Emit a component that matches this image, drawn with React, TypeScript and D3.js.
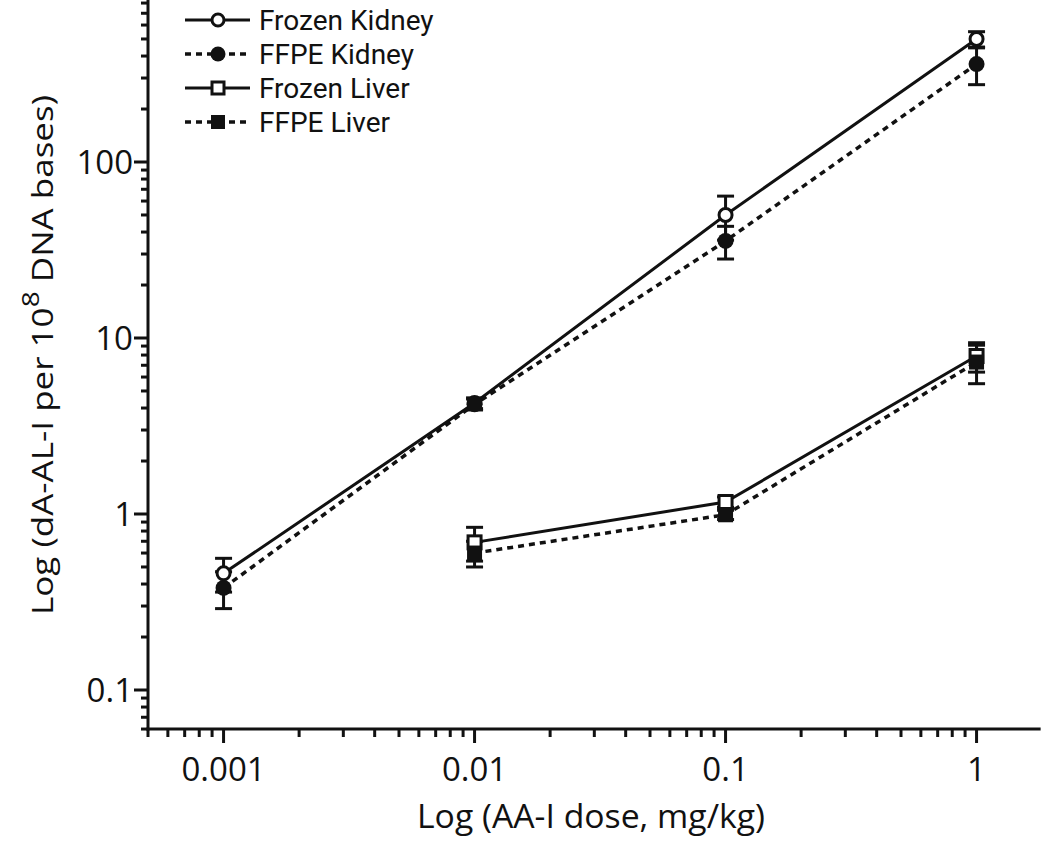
import React from "react";
import * as d3 from "d3";

const doses = [0.001, 0.01, 0.1, 1];
const frozenKidney = [0.46, 4.27, 50, 500];
const frozenKidneyErr = [0.1, 0.3, 14, 50];
const ffpeKidney = [0.38, 4.2, 35.6, 360];
const ffpeKidneyErr = [0.09, 0.3, 7.5, 85];
const liverDoses = [0.01, 0.1, 1];
const frozenLiver = [0.69, 1.17, 7.9];
const frozenLiverErr = [0.15, 0.08, 1.5];
const ffpeLiver = [0.6, 0.99, 7.3];
const ffpeLiverErr = [0.1, 0.06, 1.8];
const xTicks = [0.001, 0.01, 0.1, 1];
const xTickLabels = ["0.001", "0.01", "0.1", "1"];
const yTicks = [0.1, 1, 10, 100];
const yTickLabels = ["0.1", "1", "10", "100"];

const FONT = "'Open Sans', sans-serif";
const LEGEND_FONT = "Roboto, 'Open Sans', sans-serif";
const INK = "#111";

type Series = {
  name: string;
  x: number[];
  y: number[];
  err: number[];
  dashed: boolean;
  shape: "circle" | "square";
  filled: boolean;
};

const series: Series[] = [
  { name: "Frozen Kidney", x: doses, y: frozenKidney, err: frozenKidneyErr, dashed: false, shape: "circle", filled: false },
  { name: "FFPE Kidney", x: doses, y: ffpeKidney, err: ffpeKidneyErr, dashed: true, shape: "circle", filled: true },
  { name: "Frozen Liver", x: liverDoses, y: frozenLiver, err: frozenLiverErr, dashed: false, shape: "square", filled: false },
  { name: "FFPE Liver", x: liverDoses, y: ffpeLiver, err: ffpeLiverErr, dashed: true, shape: "square", filled: true },
];

const X0 = 148;
const Y0 = 729;
const x = d3.scaleLog().domain([0.0005, 1.8]).range([X0, X0 + 251 * Math.log10(3600)]);
const y = d3.scaleLog().domain([0.1 * Math.pow(10, -39 / 176), 0.1 * Math.pow(10, 690 / 176)]).range([Y0, 0]);

function minorTicks(lo: number, hi: number): number[] {
  const out: number[] = [];
  for (let e = -5; e <= 4; e++) {
    for (let m = 1; m <= 9; m++) {
      const v = m * Math.pow(10, e);
      if (v >= lo * 0.9999 && v <= hi * 1.0001) out.push(v);
    }
  }
  return out;
}

function Marker({ cx, cy, s, size }: { cx: number; cy: number; s: Series; size?: number }) {
  const r = size ?? 7;
  if (s.shape === "circle") {
    return (
      <circle cx={cx} cy={cy} r={s.filled ? r + 1 : r - 0.5} fill={s.filled ? INK : "#fff"} stroke={INK} strokeWidth={s.filled ? 0 : 3} />
    );
  }
  const h = s.filled ? r + 0.5 : r - 0.5;
  return <rect x={cx - h} y={cy - h} width={2 * h} height={2 * h} fill={s.filled ? INK : "#fff"} stroke={INK} strokeWidth={s.filled ? 0 : 3} />;
}

export default function App() {
  const line = d3
    .line<[number, number]>()
    .x((d) => x(d[0]))
    .y((d) => y(d[1]));

  const xMinor = minorTicks(0.0005, 1.8);
  const yMinor = minorTicks(0.06, 800);

  return (
    <svg width={1050} height={846} style={{ position: "absolute", left: 0, top: 0, background: "#fff" }}>
      <rect x={0} y={0} width={1050} height={846} fill="#fff" />
      {/* axes */}
      <line x1={X0} x2={X0} y1={0} y2={Y0 + 1.5} stroke={INK} strokeWidth={3} />
      <line x1={X0 - 1.5} x2={x.range()[1]} y1={Y0} y2={Y0} stroke={INK} strokeWidth={3} />
      {yMinor.map((v, i) => {
        const major = yTicks.some((t) => Math.abs(t - v) / t < 1e-6);
        return <line key={"ym" + i} x1={X0} x2={X0 - (major ? 14 : 7)} y1={y(v)} y2={y(v)} stroke={INK} strokeWidth={3} />;
      })}
      {xMinor.map((v, i) => {
        const major = xTicks.some((t) => Math.abs(t - v) / t < 1e-6);
        return <line key={"xm" + i} x1={x(v)} x2={x(v)} y1={Y0} y2={Y0 + (major ? 14 : 8)} stroke={INK} strokeWidth={3} />;
      })}
      {yTicks.map((v, i) => (
        <text key={"yl" + i} x={X0 - 15} y={y(v)} dy="0.36em" textAnchor="end" fontFamily={FONT} fontSize={33} fill={INK}>
          {yTickLabels[i]}
        </text>
      ))}
      {xTicks.map((v, i) => (
        <text key={"xl" + i} x={x(v)} y={Y0 + 52} textAnchor="middle" fontFamily={FONT} fontSize={33} fill={INK}>
          {xTickLabels[i]}
        </text>
      ))}
      <text x={591} y={828} textAnchor="middle" fontFamily={FONT} fontSize={33} fill={INK} textLength={348} lengthAdjust="spacingAndGlyphs">
        Log (AA-I dose, mg/kg)
      </text>
      <text transform="translate(53,355) rotate(-90)" textAnchor="middle" fontFamily={FONT} fontSize={30} fill={INK} textLength={520} lengthAdjust="spacingAndGlyphs">
        Log (dA-AL-I per 10
        <tspan dy={-14} fontSize={24}>8</tspan>
        <tspan dy={14}> DNA bases)</tspan>
      </text>

      {/* series lines */}
      {series.map((s, si) => (
        <path
          key={"ln" + si}
          d={line(s.x.map((d, i) => [d, s.y[i]] as [number, number])) || ""}
          fill="none"
          stroke={INK}
          strokeWidth={s.dashed ? 3.5 : 3}
          strokeDasharray={s.dashed ? "6,5" : undefined}
        />
      ))}
      {/* error bars */}
      {series.map((s, si) =>
        s.x.map((d, i) => {
          const cx = x(d);
          const top = y(s.y[i] + s.err[i]);
          const bot = y(Math.max(s.y[i] - s.err[i], 0.061));
          return (
            <g key={"eb" + si + "-" + i} stroke={INK} strokeWidth={3}>
              <line x1={cx} x2={cx} y1={top} y2={bot} />
              <line x1={cx - 8.5} x2={cx + 8.5} y1={top} y2={top} />
              <line x1={cx - 8.5} x2={cx + 8.5} y1={bot} y2={bot} />
            </g>
          );
        })
      )}
      {/* markers */}
      {series.map((s, si) =>
        s.x.map((d, i) => <Marker key={"mk" + si + "-" + i} cx={x(d)} cy={y(s.y[i])} s={s} />)
      )}

      {/* legend */}
      {series.map((s, si) => {
        const ly = 20 + si * 34;
        return (
          <g key={"lg" + si}>
            <line x1={185} x2={250} y1={ly} y2={ly} stroke={INK} strokeWidth={s.dashed ? 3.5 : 3} strokeDasharray={s.dashed ? "6,5" : undefined} />
            <Marker cx={218} cy={ly} s={s} size={6.5} />
            <text x={259} y={ly} dy="0.36em" fontFamily={LEGEND_FONT} fontSize={28} fill={INK}>
              {s.name}
            </text>
          </g>
        );
      })}
    </svg>
  );
}
